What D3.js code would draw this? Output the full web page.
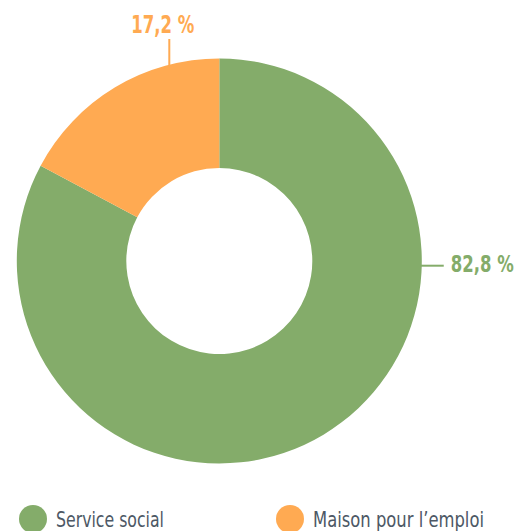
<!DOCTYPE html>
<html>
<head>
<meta charset="utf-8">
<script src="https://cdn.jsdelivr.net/npm/d3@7"></script>
<style>
  body { margin: 0; background: #fff; }
  text { font-family: "Liberation Sans Narrow", "DejaVu Sans Condensed", sans-serif; }
</style>
</head>
<body>
<svg class="chart"></svg>
<script>
// data
var categories = ["Service social", "Maison pour l\u2019emploi"];
var values = [82.8, 17.2];
var valueLabels = ["82,8 %", "17,2 %"];
var colors = ["#84ac6a", "#ffaa52"];

var width = 519, height = 531,
    cx = 219.3, cy = 261,
    outerR = 202.5, innerR = 93;

var svg = d3.select(".chart")
    .attr("width", width)
    .attr("height", height);

var pie = d3.pie().sort(null).value(d => d.value);
var arc = d3.arc().innerRadius(innerR).outerRadius(outerR);

var data = categories.map((c, i) => ({ name: c, value: values[i], label: valueLabels[i], color: colors[i] }));

var g = svg.append("g")
    .attr("transform", "translate(" + cx + "," + cy + ")");

g.selectAll(".slice")
    .data(pie(data))
    .enter().append("path")
    .attr("class", "slice")
    .attr("d", arc)
    .attr("fill", d => d.data.color);

// leader lines + value labels (hand placed like the original)
// green: horizontal line out to the right
var gy = 4.7;
var gx = Math.sqrt(outerR * outerR - gy * gy);
g.append("line")
    .attr("x1", gx - 1).attr("y1", gy)
    .attr("x2", gx + 22).attr("y2", gy)
    .attr("stroke", colors[0]).attr("stroke-width", 2);
g.append("text")
    .attr("x", gx + 29).attr("y", gy + 6)
    .attr("fill", colors[0])
    .attr("font-weight", "bold")
    .attr("font-size", 23)
    .attr("textLength", 63)
    .attr("lengthAdjust", "spacingAndGlyphs")
    .text(valueLabels[0]);

// orange: vertical line going up
var ox = -50;
var oy = -Math.sqrt(outerR * outerR - ox * ox);
g.append("line")
    .attr("x1", ox).attr("y1", oy + 2)
    .attr("x2", ox).attr("y2", -222)
    .attr("stroke", colors[1]).attr("stroke-width", 2);
g.append("text")
    .attr("x", ox - 38).attr("y", -228)
    .attr("fill", colors[1])
    .attr("font-weight", "bold")
    .attr("font-size", 24)
    .attr("textLength", 63)
    .attr("lengthAdjust", "spacingAndGlyphs")
    .text(valueLabels[1]);

// legend
var legendX = [33, 290];
var legendW = [108, 171];
var legend = svg.selectAll(".legend")
    .data(data)
    .enter().append("g")
    .attr("class", "legend")
    .attr("transform", (d, i) => "translate(" + legendX[i] + ",519)");

legend.append("circle")
    .attr("r", 14)
    .attr("fill", d => d.color);

legend.append("text")
    .attr("x", 23)
    .attr("y", 8)
    .attr("fill", "#4d5865")
    .attr("font-size", 22)
    .attr("textLength", (d, i) => legendW[i])
    .attr("lengthAdjust", "spacingAndGlyphs")
    .text(d => d.name);
</script>
</body>
</html>
